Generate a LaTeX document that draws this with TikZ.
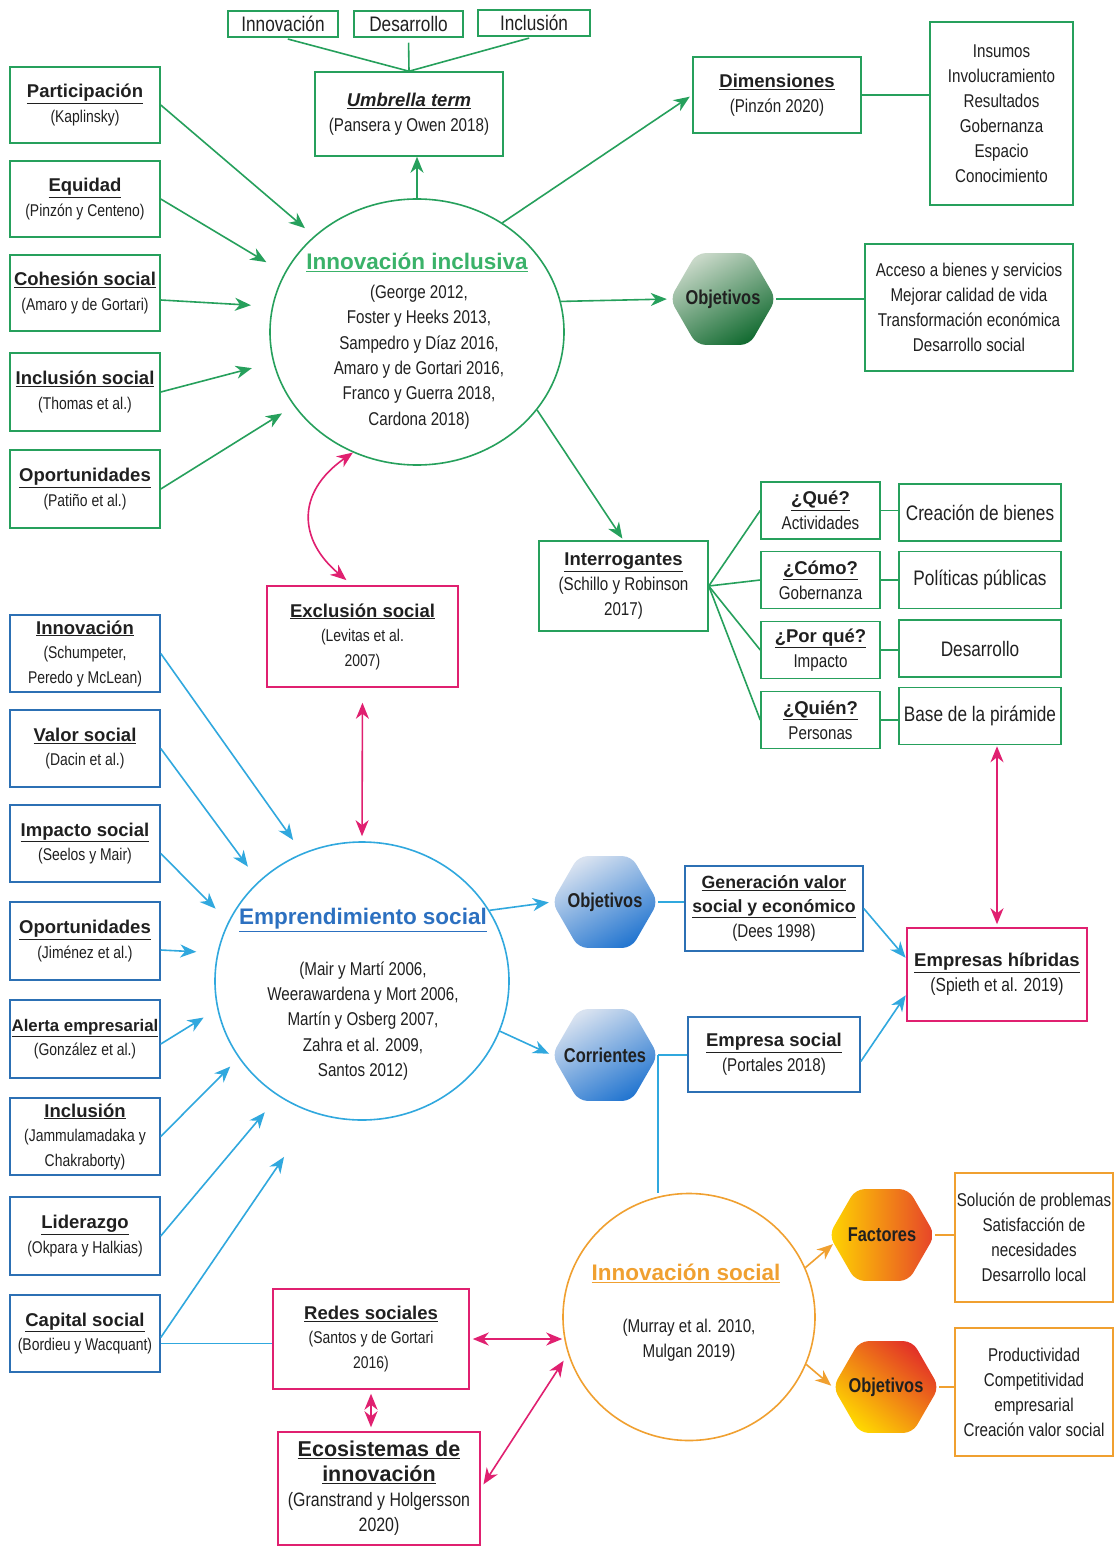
\documentclass[tikz,border=0pt]{standalone}
\usepackage{fontspec}
\setmainfont{Liberation Sans}
\newfontfamily\nar{Liberation Sans}[FakeStretch=0.82]
\usetikzlibrary{shapes.geometric,arrows.meta,calc}

\definecolor{txt}{RGB}{32,32,32}
\definecolor{gline}{RGB}{38,160,92}
\definecolor{ghead}{RGB}{58,178,105}
\definecolor{bline}{RGB}{44,112,180}
\definecolor{barrow}{RGB}{48,168,222}
\definecolor{bhead}{RGB}{44,112,192}
\definecolor{pk}{RGB}{224,32,112}
\definecolor{og}{RGB}{240,160,48}

% underlined bold title line
\newcommand\ttl[2][18.5]{{\rmfamily\bfseries\fontsize{#1}{25}\selectfont\underline{#2}}}

\tikzset{
  every node/.style={text=txt},
  bx/.style={draw, line width=1.5pt, inner sep=1pt, align=center,
             font=\nar\fontsize{18.5}{25}\selectfont},
  gbx/.style={bx, draw=gline},
  bbx/.style={bx, draw=bline},
  pbx/.style={bx, draw=pk},
  obx/.style={bx, draw=og},
  sm/.style={font=\nar\fontsize{17}{24.5}\selectfont},
  big/.style={font=\nar\fontsize{21}{25}\selectfont},
  hexa/.style={regular polygon, regular polygon sides=6, minimum size=106pt,
               inner sep=0pt, rounded corners=9pt},
  hexlabel/.style={font=\nar\bfseries\fontsize{20}{24}\selectfont},
  ring/.style={ellipse, line width=1.6pt, inner sep=0pt},
  head/.style={font=\bfseries\fontsize{22.5}{27}\selectfont},
  ctext/.style={align=center, font=\nar\fontsize{18.5}{25.3}\selectfont},
  tipone/.style={-{Stealth[length=16pt,width=13pt,inset=5pt]}, line width=1.6pt},
  tiptwo/.style={{Stealth[length=16pt,width=13pt,inset=5pt]}-{Stealth[length=16pt,width=13pt,inset=5pt]}, line width=1.6pt},
  garr/.style={tipone, draw=gline},
  barr/.style={tipone, draw=barrow},
  oarr/.style={tipone, draw=og},
  parr/.style={tiptwo, draw=pk},
  glink/.style={draw=gline, line width=1.6pt},
  blink/.style={draw=barrow, line width=1.6pt},
  olink/.style={draw=og, line width=1.6pt},
  gshade/.style={top color={rgb,255:red,200;green,216;blue,200}, bottom color={rgb,255:red,20;green,108;blue,50}, shading angle=30},
  bshade/.style={top color={rgb,255:red,216;green,226;blue,240}, bottom color={rgb,255:red,36;green,118;blue,208}, shading angle=30},
}

\begin{document}
\begin{tikzpicture}[x=1pt, y=-1pt]
\fill[white] (0,0) rectangle (1115,1546);
\useasboundingbox (0,0) rectangle (1115,1546);

% ---------------- Innovación inclusiva ----------------
\node[ring, draw=gline, minimum width=294pt, minimum height=266pt] (ii) at (417,332) {};
\node[head, text=ghead] (iih) at (417,262) {\underline{Innovación inclusiva}};
\node[ctext] (iic) at (419,357) {(George 2012,\\Foster y Heeks 2013,\\Sampedro y Díaz 2016,\\Amaro y de Gortari 2016,\\Franco y Guerra 2018,\\Cardona 2018)};

\node[gbx, big, minimum width=110pt, minimum height=26pt] (w1) at (283,24) {Innovación};
\node[gbx, big, minimum width=109pt, minimum height=26pt] (w2) at (408.5,24) {Desarrollo};
\node[gbx, big, minimum width=112pt, minimum height=26pt] (w3) at (534,23) {Inclusión};
\node[gbx, minimum width=188pt, minimum height=84pt] (umb) at (409,114) {\ttl{\itshape Umbrella term}\\(Pansera y Owen 2018)};

\node[gbx, minimum width=168pt, minimum height=76pt] (dim) at (777,95) {\ttl{Dimensiones}\\(Pinzón 2020)};
\node[gbx, minimum width=143pt, minimum height=183pt] (dimls) at (1001.5,113.5) {Insumos\\Involucramiento\\Resultados\\Gobernanza\\Espacio\\Conocimiento};

\node[hexa, gshade] (gobj) at (723,299) {};
\node[hexlabel] (gobjt) at (gobj) {Objetivos};
\node[gbx, minimum width=208pt, minimum height=127pt] (objls) at (969,307.5) {Acceso a bienes y servicios\\Mejorar calidad de vida\\Transformación económica\\Desarrollo social};

\node[gbx, sm, minimum width=150pt, minimum height=76pt] (part) at (85,105) {\ttl{Participación}\\(Kaplinsky)};
\node[gbx, sm, minimum width=150pt, minimum height=76pt] (equi) at (85,199) {\ttl{Equidad}\\(Pinzón y Centeno)};
\node[gbx, sm, minimum width=150pt, minimum height=76pt] (cohe) at (85,293) {\ttl{Cohesión social}\\(Amaro y de Gortari)};
\node[gbx, sm, minimum width=150pt, minimum height=78pt] (incs) at (85,392) {\ttl{Inclusión social}\\(Thomas et al.)};
\node[gbx, sm, minimum width=150pt, minimum height=78pt] (opor) at (85,489) {\ttl{Oportunidades}\\(Patiño et al.)};

\node[gbx, minimum width=169pt, minimum height=90pt] (intg) at (623.5,586) {\ttl{Interrogantes}\\(Schillo y Robinson\\2017)};
\node[gbx, minimum width=119pt, minimum height=57pt] (q1) at (820.5,510.5) {\ttl{¿Qué?}\\Actividades};
\node[gbx, minimum width=119pt, minimum height=57pt] (q2) at (820.5,580) {\ttl{¿Cómo?}\\Gobernanza};
\node[gbx, minimum width=119pt, minimum height=57pt] (q3) at (820.5,650) {\ttl{¿Por qué?}\\Impacto};
\node[gbx, minimum width=119pt, minimum height=57pt] (q4) at (820.5,720) {\ttl{¿Quién?}\\Personas};
\node[gbx, big, minimum width=162pt, minimum height=57pt] (a1) at (980,512.5) {Creación de bienes};
\node[gbx, big, minimum width=162pt, minimum height=57pt] (a2) at (980,580) {Políticas públicas};
\node[gbx, big, minimum width=162pt, minimum height=57pt] (a3) at (980,648.5) {Desarrollo};
\node[gbx, big, minimum width=162pt, minimum height=57pt] (a4) at (980,716) {Base de la pirámide};

% green connectors
\draw[glink, shorten <=5pt] (w1.south) -- (umb.north);
\draw[glink, shorten <=5pt] (w2.south) -- (umb.north);
\draw[glink, shorten <=5pt] (w3.south) -- (umb.north);
\draw[garr] (ii.north) -- (ii.north |- umb.south);
\draw[garr, shorten >=12pt] (part.east) -- (ii.137);
\draw[garr, shorten >=21pt] (equi.east) -- (ii.156);
\draw[garr, shorten >=21pt] ([yshift=-7pt]cohe.east) -- (ii.170);
\draw[garr, shorten >=22pt] (incs.east) -- (ii.192);
\draw[garr, shorten >=14pt] (opor.east) -- (ii.211);
\draw[garr, shorten >=3pt] (ii.52) -- (dim.west);
\draw[glink] (dim.east) -- (dim.east -| dimls.west);
\draw[garr, shorten >=3pt] (ii.12) -- (gobj.west);
\draw[glink] (gobj.east) -- (gobj.east -| objls.west);
\draw[garr, shorten >=2pt] (ii.-33) -- (intg.north);
\foreach \q in {q1,q2,q3,q4} \draw[glink] (intg.east) -- (\q.west);
\foreach \q/\a in {q1/a1,q2/a2,q3/a3,q4/a4} \draw[glink] (\q.east) -- (\q.east -| \a.west);

% ---------------- Emprendimiento social ----------------
\node[ring, draw=barrow, minimum width=294pt, minimum height=278pt] (es) at (362,981) {};
\node[head, text=bhead] (esh) at (363,920) {\underline{Emprendimiento social}};
\node[ctext] (esc) at (363,1021) {(Mair y Martí 2006,\\Weerawardena y Mort 2006,\\Martín y Osberg 2007,\\Zahra et al. 2009,\\Santos 2012)};

\node[bbx, sm, minimum width=150pt, minimum height=77pt] (b1) at (85,653.5) {\ttl{Innovación}\\(Schumpeter,\\Peredo y McLean)};
\node[bbx, sm, minimum width=150pt, minimum height=77pt] (b2) at (85,748.5) {\ttl{Valor social}\\(Dacin et al.)};
\node[bbx, sm, minimum width=150pt, minimum height=77pt] (b3) at (85,843.5) {\ttl{Impacto social}\\(Seelos y Mair)};
\node[bbx, sm, minimum width=150pt, minimum height=78pt] (b4) at (85,941) {\ttl{Oportunidades}\\(Jiménez et al.)};
\node[bbx, sm, minimum width=150pt, minimum height=78pt] (b5) at (85,1039) {\ttl[16.8]{Alerta empresarial}\\(González et al.)};
\node[bbx, sm, minimum width=150pt, minimum height=77pt] (b6) at (85,1136.5) {\ttl{Inclusión}\\(Jammulamadaka y\\Chakraborty)};
\node[bbx, sm, minimum width=150pt, minimum height=78pt] (b7) at (85,1236) {\ttl{Liderazgo}\\(Okpara y Halkias)};
\node[bbx, sm, minimum width=150pt, minimum height=77pt] (b8) at (85,1333.5) {\ttl{Capital social}\\(Bordieu y Wacquant)};

\node[hexa, bshade] (bobj) at (605,902) {};
\node[hexlabel] (bobjt) at (bobj) {Objetivos};
\node[hexa, bshade] (bcorr) at (605,1055) {};
\node[hexlabel] (bcorrt) at (bcorr) {Corrientes};
\node[bbx, minimum width=178pt, minimum height=85pt] (gen) at (774,908.5) {\ttl[17.7]{Generación valor}\\[-1pt]\ttl[17.7]{social y económico}\\(Dees 1998)};
\node[bbx, minimum width=172pt, minimum height=75pt] (emps) at (774,1054.5) {\ttl{Empresa social}\\(Portales 2018)};

% blue connectors
\draw[barr, shorten >=16pt] (b1.east) -- (es.115);
\draw[barr, shorten >=18pt] (b2.east) -- (es.136);
\draw[barr, shorten >=18pt] ([yshift=-10pt]b3.east) -- (es.156);
\draw[barr, shorten >=21pt] ([yshift=-9pt]b4.east) -- (es.169);
\draw[barr, shorten >=16pt] ([yshift=-5pt]b5.east) -- (es.191);
\draw[barr, shorten >=12pt] (b6.east) -- (es.212);
\draw[barr, shorten >=21pt] (b7.east) -- (es.234);
\draw[barr, shorten >=53pt] ([yshift=-4pt]b8.east) -- (es.250);
\draw[barr, shorten >=3pt] (es.29) -- (bobj.west);
\draw[barr, shorten >=3pt] (es.-20) -- (bcorr.west);
\draw[blink] (bobj.east) -- (bobj.east -| gen.west);
\draw[blink] (bcorr.east) -- (bcorr.east -| emps.west);

% ---------------- Innovación social ----------------
\node[ring, draw=og, minimum width=252pt, minimum height=247pt] (is) at (689,1317) {};
\node[head, text=og] (ish) at (686,1273) {\underline{Innovación social}};
\node[ctext] (isc) at (689,1340) {(Murray et al. 2010,\\Mulgan 2019)};

\node[hexa, left color={rgb,255:red,255;green,214;blue,0}, right color={rgb,255:red,230;green,66;blue,42}] (fact) at (882,1235) {};
\node[hexlabel] (factt) at (fact) {Factores};
\node[hexa, top color={rgb,255:red,226;green,48;blue,40}, bottom color={rgb,255:red,255;green,216;blue,0}, shading angle=-40] (oobj) at (886,1387) {};
\node[hexlabel] (oobjt) at (oobj) {Objetivos};
\node[obx, minimum width=158pt, minimum height=129pt] (flist) at (1034,1237.5) {Solución de problemas\\Satisfacción de\\necesidades\\Desarrollo local};
\node[obx, minimum width=158pt, minimum height=128pt] (olist) at (1034,1392) {Productividad\\Competitividad\\empresarial\\Creación valor social};

\draw[blink] (bcorr.east) -- (bcorr.east |- is.north);
\draw[oarr, shorten >=1pt] (is.23) -- (fact.190);
\draw[oarr, shorten >=2pt] (is.-22) -- (oobj.west);
\draw[olink] (fact.east) -- (fact.east -| flist.west);
\draw[olink] (oobj.east) -- (oobj.east -| olist.west);

% ---------------- pink cluster ----------------
\node[pbx, sm, minimum width=191pt, minimum height=101pt] (excl) at (362.5,636.5) {\ttl{Exclusión social}\\(Levitas et al.\\2007)};
\node[pbx, minimum width=180pt, minimum height=93pt] (hib) at (997,974.5) {\ttl{Empresas híbridas}\\{\fontsize{19}{25}\selectfont(Spieth et al. 2019)}};
\node[pbx, sm, minimum width=196pt, minimum height=100pt] (redes) at (371,1339) {\ttl{Redes sociales}\\(Santos y de Gortari\\2016)};
\node[pbx, minimum width=202pt, minimum height=113pt, font=\nar\fontsize{19.4}{25}\selectfont] (eco) at (379,1488.5) {\ttl[21.5]{Ecosistemas de}\\\ttl[21.5]{innovación}\\(Granstrand y Holgersson\\2020)};

\draw[barr, shorten >=1pt] (gen.east) -- ([yshift=16pt]hib.west);
\draw[barr, shorten >=1pt] ([yshift=-7pt]emps.east) -- ([yshift=-20pt]hib.west);
\draw[blink] ([yshift=-10pt]b8.east) -- ([yshift=-10pt]b8.east -| redes.west);

\draw[parr, shorten >=8pt] (ii.242) to[out=215, in=140, looseness=1.35] ([xshift=-10pt]excl.north);
\draw[parr, shorten <=15pt, shorten >=5pt] (excl.south) -- (es.north);
\draw[parr, shorten <=1pt, shorten >=3pt] (hib.north |- a4.south) -- (hib.north);
\draw[parr, shorten <=3pt, shorten >=2pt] (redes.east) -- (is.190);
\draw[parr, shorten <=4pt, shorten >=4pt] (redes.south) -- (redes.south |- eco.north);
\draw[parr, shorten <=5pt, shorten >=8pt] (eco.east) -- (is.197);
\end{tikzpicture}
\end{document}
